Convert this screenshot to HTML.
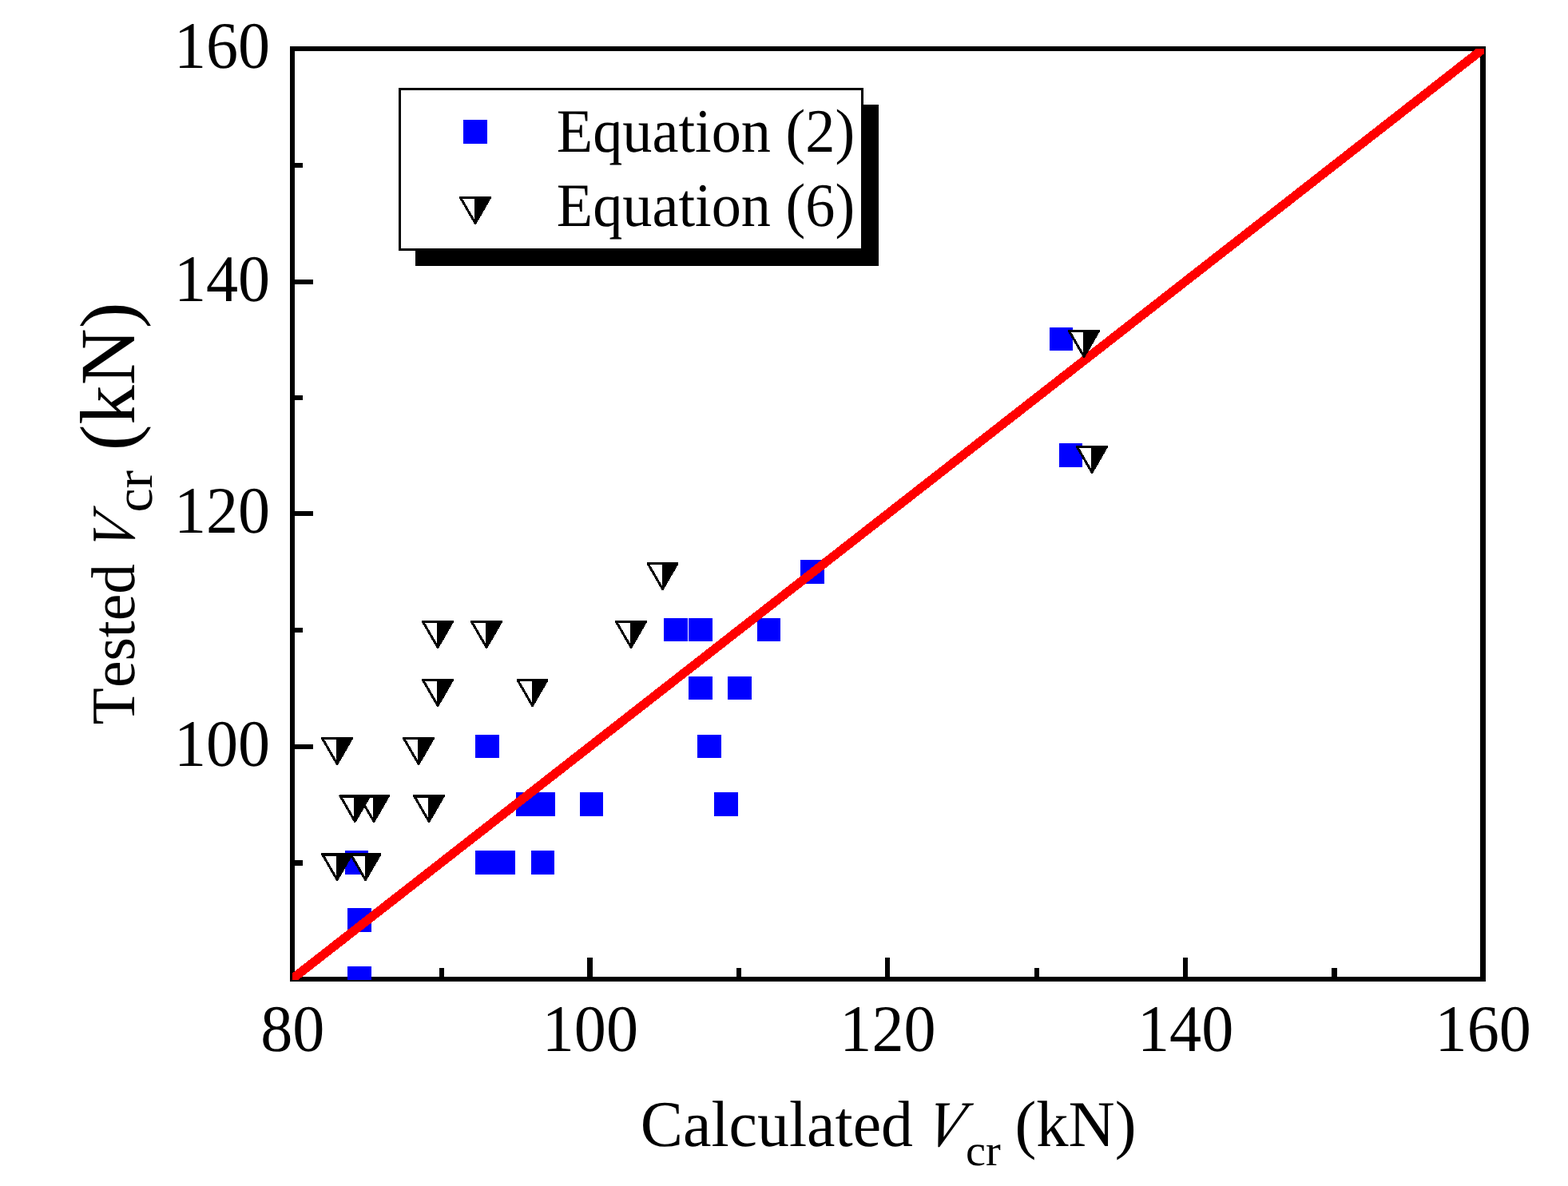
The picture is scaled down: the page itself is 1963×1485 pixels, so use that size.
<!DOCTYPE html>
<html lang="en">
<head>
<meta charset="utf-8">
<title>Tested Vcr versus Calculated Vcr</title>
<style>
html,body{margin:0;padding:0;background:#ffffff;}
body{width:1963px;height:1485px;overflow:hidden;}
svg{display:block;}
</style>
</head>
<body>
<svg width="1963" height="1485" viewBox="0 0 1963 1485" role="img" aria-label="Scatter plot of tested Vcr against calculated Vcr in kN">
<defs><clipPath id="plotclip"><rect x="366" y="61" width="1492" height="1166"/></clipPath></defs>
<rect x="0" y="0" width="1963" height="1485" fill="#ffffff"/>
<g fill="#000000" shape-rendering="crispEdges">
<rect x="363" y="58" width="6" height="1171"/>
<rect x="1853" y="58" width="7" height="1171"/>
<rect x="363" y="58" width="1497" height="6"/>
<rect x="363" y="1223" width="1497" height="6"/>
<rect x="369" y="204" width="10" height="6"/>
<rect x="369" y="350" width="23" height="6"/>
<rect x="369" y="495" width="10" height="6"/>
<rect x="369" y="640" width="23" height="6"/>
<rect x="369" y="786" width="10" height="6"/>
<rect x="369" y="932" width="23" height="6"/>
<rect x="369" y="1077" width="10" height="7"/>
<rect x="550" y="1212" width="6" height="11"/>
<rect x="735" y="1199" width="7" height="24"/>
<rect x="922" y="1212" width="6" height="11"/>
<rect x="1108" y="1199" width="6" height="24"/>
<rect x="1295" y="1212" width="6" height="11"/>
<rect x="1481" y="1199" width="6" height="24"/>
<rect x="1667" y="1212" width="7" height="11"/>
</g>
<g clip-path="url(#plotclip)" shape-rendering="crispEdges">
<g fill="#0000ff">
<rect x="435" y="1210" width="30" height="30"/>
<rect x="435" y="1137" width="30" height="30"/>
<rect x="432" y="1065" width="29" height="30"/>
<rect x="595" y="1065" width="50" height="30"/>
<rect x="665" y="1065" width="29" height="30"/>
<rect x="646" y="992" width="49" height="30"/>
<rect x="726" y="992" width="29" height="30"/>
<rect x="894" y="992" width="30" height="30"/>
<rect x="595" y="920" width="30" height="29"/>
<rect x="873" y="920" width="30" height="29"/>
<rect x="862" y="847" width="30" height="29"/>
<rect x="911" y="847" width="30" height="29"/>
<rect x="831" y="774" width="30" height="29"/>
<rect x="862" y="774" width="30" height="29"/>
<rect x="948" y="774" width="29" height="29"/>
<rect x="1002" y="701" width="30" height="30"/>
<rect x="1326" y="555" width="29" height="30"/>
<rect x="1314" y="410" width="29" height="29"/>
</g>
<line x1="346" y1="1241.22" x2="1877" y2="45.38" stroke="#ff0000" stroke-width="11.2"/>
<path d="M439.00 1069.50L476.00 1069.50L457.50 1101.50Z" fill="#ffffff" stroke="none"/><path d="M456.50 1069.50L476.00 1069.50L457.50 1101.50L456.50 1101.50Z" fill="#000000" stroke="none"/><path d="M439.00 1069.50L476.00 1069.50L457.50 1101.50Z" fill="none" stroke="#000000" stroke-width="3" stroke-linejoin="round"/><rect x="439.00" y="1071" width="18.50" height="1" fill="#000000"/>
<path d="M403.50 1069.50L440.50 1069.50L422.00 1101.50Z" fill="#ffffff" stroke="none"/><path d="M421.00 1069.50L440.50 1069.50L422.00 1101.50L421.00 1101.50Z" fill="#000000" stroke="none"/><path d="M403.50 1069.50L440.50 1069.50L422.00 1101.50Z" fill="none" stroke="#000000" stroke-width="3" stroke-linejoin="round"/><rect x="403.50" y="1071" width="18.50" height="1" fill="#000000"/>
<path d="M449.50 996.50L486.50 996.50L468.00 1028.50Z" fill="#ffffff" stroke="none"/><path d="M467.00 996.50L486.50 996.50L468.00 1028.50L467.00 1028.50Z" fill="#000000" stroke="none"/><path d="M449.50 996.50L486.50 996.50L468.00 1028.50Z" fill="none" stroke="#000000" stroke-width="3" stroke-linejoin="round"/><rect x="449.50" y="998" width="18.50" height="1" fill="#000000"/>
<path d="M425.90 996.50L462.90 996.50L444.40 1028.50Z" fill="#ffffff" stroke="none"/><path d="M443.40 996.50L462.90 996.50L444.40 1028.50L443.40 1028.50Z" fill="#000000" stroke="none"/><path d="M425.90 996.50L462.90 996.50L444.40 1028.50Z" fill="none" stroke="#000000" stroke-width="3" stroke-linejoin="round"/><rect x="425.90" y="998" width="18.50" height="1" fill="#000000"/>
<path d="M518.50 996.50L555.50 996.50L537.00 1028.50Z" fill="#ffffff" stroke="none"/><path d="M536.00 996.50L555.50 996.50L537.00 1028.50L536.00 1028.50Z" fill="#000000" stroke="none"/><path d="M518.50 996.50L555.50 996.50L537.00 1028.50Z" fill="none" stroke="#000000" stroke-width="3" stroke-linejoin="round"/><rect x="518.50" y="998" width="18.50" height="1" fill="#000000"/>
<path d="M403.50 924.50L440.50 924.50L422.00 956.50Z" fill="#ffffff" stroke="none"/><path d="M421.00 924.50L440.50 924.50L422.00 956.50L421.00 956.50Z" fill="#000000" stroke="none"/><path d="M403.50 924.50L440.50 924.50L422.00 956.50Z" fill="none" stroke="#000000" stroke-width="3" stroke-linejoin="round"/>
<path d="M505.50 924.50L542.50 924.50L524.00 956.50Z" fill="#ffffff" stroke="none"/><path d="M523.00 924.50L542.50 924.50L524.00 956.50L523.00 956.50Z" fill="#000000" stroke="none"/><path d="M505.50 924.50L542.50 924.50L524.00 956.50Z" fill="none" stroke="#000000" stroke-width="3" stroke-linejoin="round"/>
<path d="M529.50 851.50L566.50 851.50L548.00 883.50Z" fill="#ffffff" stroke="none"/><path d="M547.00 851.50L566.50 851.50L548.00 883.50L547.00 883.50Z" fill="#000000" stroke="none"/><path d="M529.50 851.50L566.50 851.50L548.00 883.50Z" fill="none" stroke="#000000" stroke-width="3" stroke-linejoin="round"/>
<path d="M648.00 851.50L685.00 851.50L666.50 883.50Z" fill="#ffffff" stroke="none"/><path d="M665.50 851.50L685.00 851.50L666.50 883.50L665.50 883.50Z" fill="#000000" stroke="none"/><path d="M648.00 851.50L685.00 851.50L666.50 883.50Z" fill="none" stroke="#000000" stroke-width="3" stroke-linejoin="round"/>
<path d="M529.50 778.50L566.50 778.50L548.00 810.50Z" fill="#ffffff" stroke="none"/><path d="M547.00 778.50L566.50 778.50L548.00 810.50L547.00 810.50Z" fill="#000000" stroke="none"/><path d="M529.50 778.50L566.50 778.50L548.00 810.50Z" fill="none" stroke="#000000" stroke-width="3" stroke-linejoin="round"/>
<path d="M590.50 778.50L627.50 778.50L609.00 810.50Z" fill="#ffffff" stroke="none"/><path d="M608.00 778.50L627.50 778.50L609.00 810.50L608.00 810.50Z" fill="#000000" stroke="none"/><path d="M590.50 778.50L627.50 778.50L609.00 810.50Z" fill="none" stroke="#000000" stroke-width="3" stroke-linejoin="round"/>
<path d="M771.50 778.50L808.50 778.50L790.00 810.50Z" fill="#ffffff" stroke="none"/><path d="M789.00 778.50L808.50 778.50L790.00 810.50L789.00 810.50Z" fill="#000000" stroke="none"/><path d="M771.50 778.50L808.50 778.50L790.00 810.50Z" fill="none" stroke="#000000" stroke-width="3" stroke-linejoin="round"/>
<path d="M811.00 705.50L848.00 705.50L829.50 737.50Z" fill="#ffffff" stroke="none"/><path d="M828.50 705.50L848.00 705.50L829.50 737.50L828.50 737.50Z" fill="#000000" stroke="none"/><path d="M811.00 705.50L848.00 705.50L829.50 737.50Z" fill="none" stroke="#000000" stroke-width="3" stroke-linejoin="round"/>
<path d="M1348.50 559.50L1385.50 559.50L1367.00 591.50Z" fill="#ffffff" stroke="none"/><path d="M1366.00 559.50L1385.50 559.50L1367.00 591.50L1366.00 591.50Z" fill="#000000" stroke="none"/><path d="M1348.50 559.50L1385.50 559.50L1367.00 591.50Z" fill="none" stroke="#000000" stroke-width="3" stroke-linejoin="round"/>
<path d="M1338.50 414.50L1375.50 414.50L1357.00 446.50Z" fill="#ffffff" stroke="none"/><path d="M1356.00 414.50L1375.50 414.50L1357.00 446.50L1356.00 446.50Z" fill="#000000" stroke="none"/><path d="M1338.50 414.50L1375.50 414.50L1357.00 446.50Z" fill="none" stroke="#000000" stroke-width="3" stroke-linejoin="round"/>
</g>
<g shape-rendering="crispEdges">
<rect x="520" y="131" width="580" height="202" fill="#000000"/>
<rect x="500.5" y="111.5" width="579" height="201" fill="#ffffff" stroke="#000000" stroke-width="3"/>
<rect x="580" y="150" width="30" height="30" fill="#0000ff"/>
<path d="M576.50 247.50L613.50 247.50L595.00 279.50Z" fill="#ffffff" stroke="none"/><path d="M594.00 247.50L613.50 247.50L595.00 279.50L594.00 279.50Z" fill="#000000" stroke="none"/><path d="M576.50 247.50L613.50 247.50L595.00 279.50Z" fill="none" stroke="#000000" stroke-width="3" stroke-linejoin="round"/>
</g>
<g font-family="'Liberation Serif', serif" fill="#000000" style="font-kerning:none" text-rendering="geometricPrecision">
<text transform="translate(217.93 84.60) scale(0.9640 1)" font-size="83.2">160</text>
<text transform="translate(217.93 376.80) scale(0.9640 1)" font-size="83.2">140</text>
<text transform="translate(217.93 666.80) scale(0.9640 1)" font-size="83.2">120</text>
<text transform="translate(217.93 958.90) scale(0.9640 1)" font-size="83.2">100</text>
<text transform="translate(326.20 1315.80) scale(0.9640 1)" font-size="83.2">80</text>
<text transform="translate(678.75 1315.80) scale(0.9640 1)" font-size="83.2">100</text>
<text transform="translate(1051.35 1315.80) scale(0.9640 1)" font-size="83.2">120</text>
<text transform="translate(1423.95 1315.80) scale(0.9640 1)" font-size="83.2">140</text>
<text transform="translate(1796.55 1315.80) scale(0.9640 1)" font-size="83.2">160</text>
<text transform="translate(696.77 189.80) scale(0.9611 1)" font-size="77.3">Equation (2)</text>
<text transform="translate(696.77 282.70) scale(0.9611 1)" font-size="77.3">Equation (6)</text>
<text transform="translate(801.81 1434.60) scale(0.9755 1)" font-size="81.8">Calculated</text>
<text transform="translate(1155.76 1434.60) scale(0.8928 1) skewX(-14)" font-size="81.8" font-style="italic">V</text>
<text transform="translate(1208.94 1459.00) scale(1.0331 1)" font-size="54.5">cr</text>
<text transform="translate(1270.51 1434.60) scale(0.9848 1)" font-size="81.8">(kN)</text>
<text transform="translate(168.10 907.16) rotate(-90) scale(0.9734 1)" font-size="77.5">Tested</text>
<text transform="translate(168.30 692.05) rotate(-90) scale(0.8759 1) skewX(-14)" font-size="77.5" font-style="italic">V</text>
<text transform="translate(189.60 641.48) rotate(-90) scale(1.0100 1)" font-size="67.0">cr</text>
<text transform="translate(168.10 564.16) rotate(-90) scale(1.0028 1)" font-size="98.0">(kN)</text>
</g>
</svg>
</body>
</html>
